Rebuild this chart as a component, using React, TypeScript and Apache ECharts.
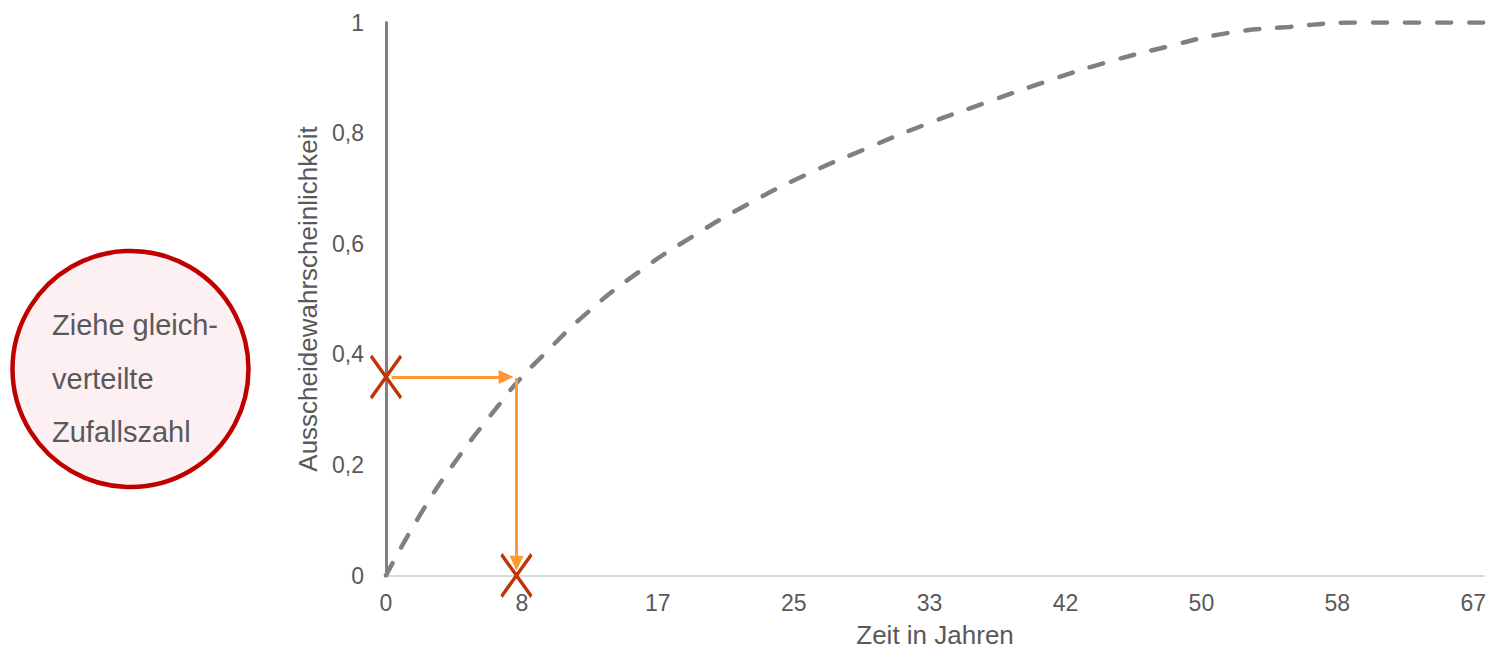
import React, { useEffect, useRef } from "react";
import * as echarts from "echarts";

// ---- data ----
const xYears = [
  0, 2.21, 4.42, 6.81, 8.04, 9.57, 12.39, 15.58, 18.83, 22.21, 25.83, 29.51, 33.19,
  36.87, 40.55, 44.29, 48.1, 51.9, 55.64, 59.8, 63.5, 67.67,
];
const yProb = [
  0, 0.115, 0.212, 0.303, 0.348, 0.395, 0.475, 0.549, 0.612, 0.67, 0.724, 0.771, 0.815,
  0.854, 0.892, 0.927, 0.956, 0.981, 0.992, 1, 1, 1,
];
const xTickLabels = ["0", "8", "17", "25", "33", "42", "50", "58", "67"];
const yTickLabels = ["0", "0,2", "0,4", "0,6", "0,8", "1"];
const xLabelMax = 67;
const xAxisMax = 67.67;

// sampled random number and resulting time
const randomDraw = 0.359;
const sampledTime = 8.04;
const arrowH = [[0.35, randomDraw], [7.4, randomDraw]];
const arrowV = [[sampledTime, 0.357], [sampledTime, 0.022]];
const crossPoints = [[0, randomDraw], [sampledTime, 0]];

const circleLines = ["Ziehe gleich-", "verteilte", "Zufallszahl"];

const FONT = "'Liberation Sans', Arial, sans-serif";
const TXT = "#595959";

export default function App() {
  const ref = useRef<HTMLDivElement>(null);
  useEffect(() => {
    if (!ref.current) return;
    const chart = echarts.init(ref.current, null, { renderer: "svg" });
    const xInterval = xLabelMax / (xTickLabels.length - 1);
    chart.setOption({
      animation: false,
      textStyle: { fontFamily: FONT },
      grid: { left: 386, right: 0, top: 22.5, bottom: 77.5, containLabel: false },
      xAxis: {
        type: "value",
        min: 0,
        max: xAxisMax,
        interval: xInterval,
        name: "Zeit in Jahren",
        nameLocation: "middle",
        nameGap: 46,
        nameTextStyle: { color: TXT, fontSize: 26, fontFamily: FONT },
        axisLine: { show: true, lineStyle: { color: "#D9D9D9", width: 2 } },
        axisTick: { show: false },
        splitLine: { show: false },
        axisLabel: {
          color: TXT,
          fontSize: 23,
          fontFamily: FONT,
          margin: 16,
          showMaxLabel: false,
          formatter: (v: number) => {
            const i = Math.round(v / xInterval);
            return Math.abs(v - i * xInterval) < 1e-6 ? xTickLabels[i] ?? "" : "";
          },
        },
      },
      yAxis: {
        type: "value",
        min: 0,
        max: 1,
        interval: 0.2,
        name: "Ausscheidewahrscheinlichkeit",
        nameLocation: "middle",
        nameGap: 64,
        nameRotate: 90,
        nameTextStyle: { color: TXT, fontSize: 26, fontFamily: FONT },
        axisLine: { show: true, lineStyle: { color: "#808080", width: 3 } },
        axisTick: { show: false },
        splitLine: { show: false },
        axisLabel: {
          color: TXT,
          fontSize: 23,
          fontFamily: FONT,
          margin: 22,
          formatter: (v: number) => yTickLabels[Math.round(v / 0.2)] ?? "",
        },
      },
      series: [
        {
          type: "line",
          data: xYears.map((x, i) => [x, yProb[i]]),
          showSymbol: false,
          symbol: "none",
          smooth: 0.5,
          lineStyle: { color: "#808080", width: 4.5, type: [14, 18], cap: "round" },
          z: 2,
        },
        {
          type: "scatter",
          data: crossPoints,
          symbol: "path://M0,0L30,42M30,0L0,42",
          symbolSize: [30, 42],
          itemStyle: { color: "rgba(0,0,0,0)", borderColor: "#BF3508", borderWidth: 3.5, opacity: 1 },
          clip: false,
          z: 4,
          markLine: {
            silent: true,
            symbol: ["none", "triangle"],
            symbolSize: [14, 15],
            label: { show: false },
            lineStyle: { color: "#FF9933", width: 3, type: "solid", opacity: 1 },
            emphasis: { disabled: true },
            data: [
              [{ coord: arrowH[0] }, { coord: arrowH[1] }],
              [{ coord: arrowV[0] }, { coord: arrowV[1] }],
            ],
            z: 3,
          },
        },
      ],
      graphic: [
        {
          type: "circle",
          shape: { cx: 130.5, cy: 369, r: 118 },
          style: { fill: "#FCF0F2", stroke: "#C00000", lineWidth: 4.5 },
          z: 10,
        },
        ...circleLines.map((t, i) => ({
          type: "text",
          x: 52,
          y: 325 + i * 53.5,
          style: {
            text: t,
            fill: TXT,
            font: `29px ${FONT}`,
            textAlign: "left",
            textVerticalAlign: "middle",
          },
          z: 11,
        })),
      ],
    });
    return () => chart.dispose();
  }, []);
  return (
    <div
      ref={ref}
      style={{ position: "absolute", left: 0, top: 0, width: 1489, height: 653, background: "#fff" }}
    />
  );
}
